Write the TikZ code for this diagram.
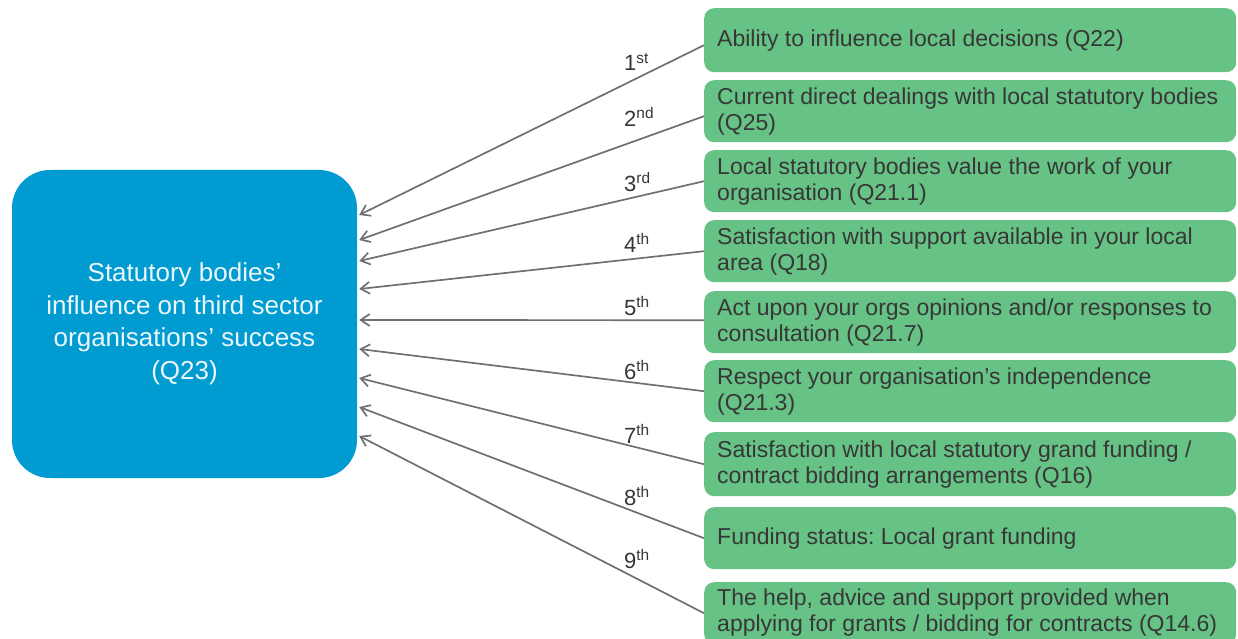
\documentclass[tikz,border=0pt]{standalone}
\usepackage{fontspec}
\setmainfont{Liberation Sans}
\usetikzlibrary{arrows.meta}
\definecolor{gfill}{RGB}{102,194,133}
\definecolor{bfill}{RGB}{0,155,208}
\definecolor{txt}{RGB}{55,55,55}
\definecolor{arr}{RGB}{112,112,112}
\frenchspacing
\begin{document}
\begin{tikzpicture}[x=1pt,y=-1pt,
 gbox/.style={draw=none, fill=gfill, rounded corners=10pt, minimum width=532pt, inner sep=0pt, anchor=north west},
 gtext/.style={anchor=west, align=left, text=txt, font=\fontsize{23}{26}\selectfont, inner sep=0pt},
 rank/.style={anchor=west, text=txt, font=\fontsize{22}{24}\selectfont, inner sep=0pt},
 conn/.style={draw=arr, line width=1.7pt, -{Straight Barb[length=9pt,width=12pt]}}
]
\useasboundingbox[fill=white] (0,0) rectangle (1238,639);

\node[fill=bfill, rounded corners=38pt, minimum width=345pt, minimum height=308pt, inner sep=0pt,
      text=white!92!bfill, align=center, font=\fontsize{26}{32.5}\selectfont] (b) at (184.5,324)
  {Statutory bodies’\\influence on third sector\\organisations’ success\\(Q23)};

\node[gbox, minimum height=64pt] (g1) at (704,8) {};
\node[gbox, minimum height=62pt] (g2) at (704,80) {};
\node[gbox, minimum height=62pt] (g3) at (704,150) {};
\node[gbox, minimum height=62pt] (g4) at (704,220) {};
\node[gbox, minimum height=62pt] (g5) at (704,291) {};
\node[gbox, minimum height=62pt] (g6) at (704,360) {};
\node[gbox, minimum height=64pt] (g7) at (704,432) {};
\node[gbox, minimum height=62pt] (g8) at (704,507) {};
\node[gbox, minimum height=62pt] (g9) at (704,582) {};

\node[gtext] (t1) at ([xshift=13pt]g1.west) {Ability to influence local decisions (Q22)};
\node[gtext] (t2) at ([xshift=13pt]g2.west) {Current direct dealings with local statutory bodies\\(Q25)};
\node[gtext] (t3) at ([xshift=13pt]g3.west) {Local statutory bodies value the work of your\\organisation (Q21.1)};
\node[gtext] (t4) at ([xshift=13pt]g4.west) {Satisfaction with support available in your local\\area (Q18)};
\node[gtext] (t5) at ([xshift=13pt]g5.west) {Act upon your orgs opinions and/or responses to\\consultation (Q21.7)};
\node[gtext] (t6) at ([xshift=13pt]g6.west) {Respect your organisation’s independence\\(Q21.3)};
\node[gtext] (t7) at ([xshift=13pt]g7.west) {Satisfaction with local statutory grand funding /\\contract bidding arrangements (Q16)};
\node[gtext] (t8) at ([xshift=13pt]g8.west) {Funding status: Local grant funding};
\node[gtext] (t9) at ([xshift=13pt,yshift=1pt]g9.west) {The help, advice and support provided when\\applying for grants / bidding for contracts (Q14.6)};

\draw[conn] ([yshift=-5pt]g1.west) -- ([xshift=2pt,yshift=109pt]b.east);
\draw[conn] ([yshift=-5pt]g2.west) -- ([xshift=2pt,yshift=84pt]b.east);
\draw[conn] (g3.west) -- ([xshift=2pt,yshift=63pt]b.east);
\draw[conn] (g4.west) -- ([xshift=2pt,yshift=35pt]b.east);
\draw[conn] ([yshift=2pt]g5.west) -- ([xshift=2pt,yshift=4pt]b.east);
\draw[conn] (g6.west) -- ([xshift=2pt,yshift=-25pt]b.east);
\draw[conn] (g7.west) -- ([xshift=2pt,yshift=-54pt]b.east);
\draw[conn] (g8.west) -- ([xshift=2pt,yshift=-83pt]b.east);
\draw[conn] (g9.west) -- ([xshift=2pt,yshift=-112pt]b.east);

\node[rank] (r1) at (624,62) {1\textsuperscript{st}};
\node[rank] (r2) at (624,117) {2\textsuperscript{nd}};
\node[rank] (r3) at (624,182) {3\textsuperscript{rd}};
\node[rank] (r4) at (624,243) {4\textsuperscript{th}};
\node[rank] (r5) at (624,306) {5\textsuperscript{th}};
\node[rank] (r6) at (624,370) {6\textsuperscript{th}};
\node[rank] (r7) at (624,434) {7\textsuperscript{th}};
\node[rank] (r8) at (624,496) {8\textsuperscript{th}};
\node[rank] (r9) at (624,559) {9\textsuperscript{th}};
\end{tikzpicture}
\end{document}
